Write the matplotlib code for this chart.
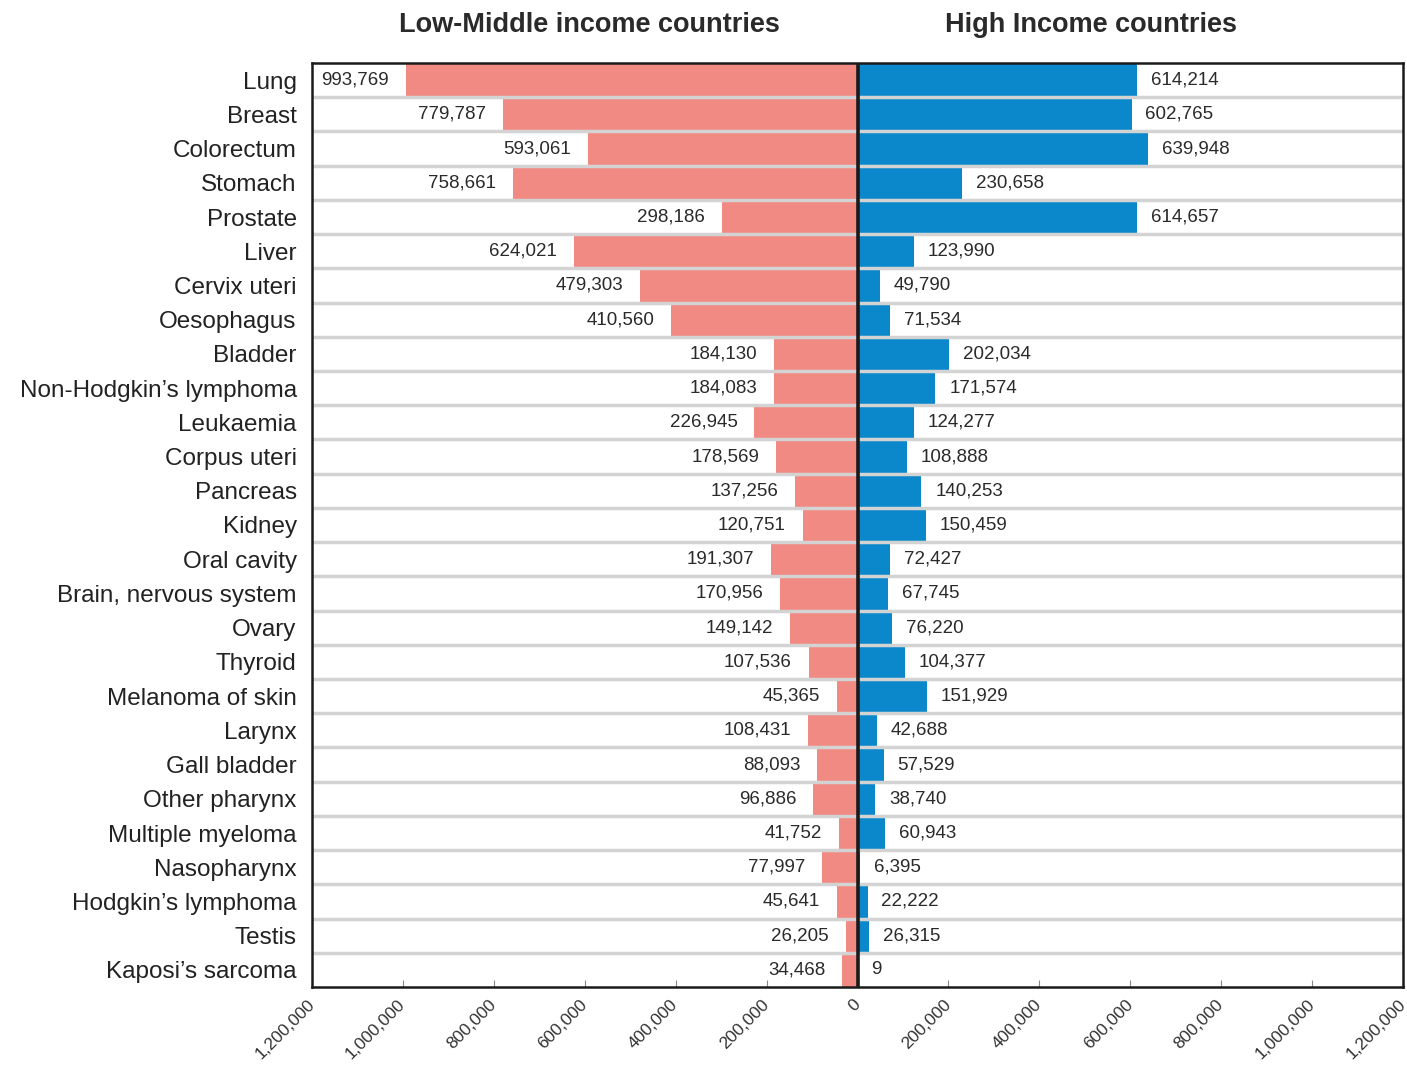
import matplotlib
matplotlib.use("Agg")
import matplotlib.pyplot as plt
from matplotlib.ticker import FuncFormatter

plt.rcParams['font.family'] = ['Liberation Sans', 'DejaVu Sans']

categories = ["Lung", "Breast", "Colorectum", "Stomach", "Prostate", "Liver",
              "Cervix uteri", "Oesophagus", "Bladder", "Non-Hodgkin\u2019s lymphoma",
              "Leukaemia", "Corpus uteri", "Pancreas", "Kidney", "Oral cavity",
              "Brain, nervous system", "Ovary", "Thyroid", "Melanoma of skin",
              "Larynx", "Gall bladder", "Other pharynx", "Multiple myeloma",
              "Nasopharynx", "Hodgkin\u2019s lymphoma", "Testis", "Kaposi\u2019s sarcoma"]

low_middle = [993769, 779787, 593061, 758661, 298186, 624021, 479303, 410560,
              184130, 184083, 226945, 178569, 137256, 120751, 191307, 170956,
              149142, 107536, 45365, 108431, 88093, 96886, 41752, 77997,
              45641, 26205, 34468]

high_income = [614214, 602765, 639948, 230658, 614657, 123990, 49790, 71534,
               202034, 171574, 124277, 108888, 140253, 150459, 72427, 67745,
               76220, 104377, 151929, 42688, 57529, 38740, 60943, 6395,
               22222, 26315, 9]

tick_values = [-1200000, -1000000, -800000, -600000, -400000, -200000, 0,
               200000, 400000, 600000, 800000, 1000000, 1200000]

titles = ["Low-Middle income countries", "High Income countries"]

fig = plt.figure(figsize=(14.07, 10.66), dpi=100)
ax = fig.add_axes([312/1407, 1-987/1066, (1403-312)/1407, (987-63)/1066])

n = len(categories)
ypos = list(range(n))
ax.barh(ypos, [-v for v in low_middle], height=1.0, color='#F28A84', zorder=2)
ax.barh(ypos, high_income, height=1.0, color='#0B88CC', zorder=2)

for k in range(n - 1):
    ax.axhline(k + 0.5, color='#d3d3d3', lw=2.5, zorder=3)

ax.axvline(0, color='#1a1a1a', lw=2.6, zorder=5)

ax.set_xlim(-1200000, 1200000)
ax.set_ylim(n - 0.5, -0.5)

for i, (lv, hv) in enumerate(zip(low_middle, high_income)):
    ax.annotate(f"{lv:,}", xy=(-lv, i), xytext=(-12, 0), textcoords='offset points',
                ha='right', va='center', fontsize=13.5, color='#2a2a2a', zorder=6)
    ax.annotate(f"{hv:,}", xy=(hv, i), xytext=(10, 0), textcoords='offset points',
                ha='left', va='center', fontsize=13.5, color='#2a2a2a', zorder=6)

ax.set_yticks(ypos)
ax.set_yticklabels(categories, fontsize=17.5, color='#222222')
ax.tick_params(axis='y', length=0, pad=11)

ax.set_xticks(tick_values)
ax.xaxis.set_major_formatter(FuncFormatter(lambda x, p: f"{abs(int(round(x))):,}"))
ax.tick_params(axis='x', direction='in', length=5, color='#888888', labelsize=12.5,
               labelcolor='#333333', pad=11)
for lab in ax.get_xticklabels():
    lab.set_rotation(45)
    lab.set_ha('right')
    lab.set_va('center')
    lab.set_rotation_mode('anchor')

for sp in ax.spines.values():
    sp.set_color('#1a1a1a')
    sp.set_linewidth(1.8)
    sp.set_zorder(6)

fig.text(589/1407, 1-25/1066, titles[0], ha='center', va='center',
         fontsize=19.5, fontweight='bold', color='#2a2a2a')
fig.text(1091/1407, 1-25/1066, titles[1], ha='center', va='center',
         fontsize=19.5, fontweight='bold', color='#2a2a2a')

fig.savefig("out.png", dpi=100)
